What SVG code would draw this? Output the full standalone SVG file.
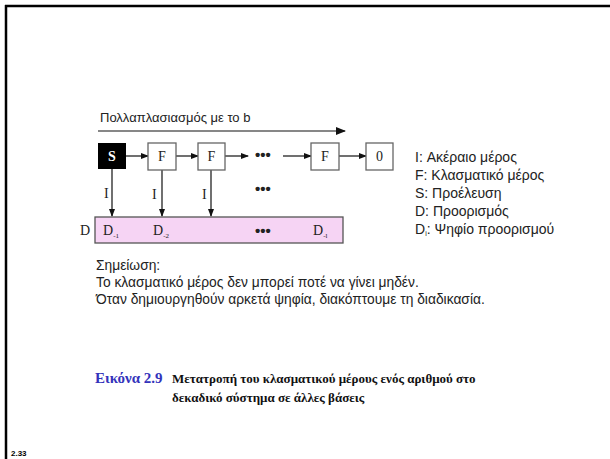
<svg xmlns="http://www.w3.org/2000/svg" width="610" height="459" viewBox="0 0 610 459">
<defs>
<marker id="ah" markerWidth="8" markerHeight="6" refX="7" refY="3" orient="auto" markerUnits="userSpaceOnUse">
<path d="M0,0 L8,3 L0,6 Z" fill="#111"/>
</marker>
<marker id="ahb" markerWidth="10" markerHeight="8" refX="9" refY="4" orient="auto" markerUnits="userSpaceOnUse">
<path d="M0,0 L10,4 L0,8 Z" fill="#111"/>
</marker>
<style>
.sans{font-family:"Liberation Sans","Open Sans",sans-serif;fill:#222}
.serif{font-family:"Liberation Serif","Times New Roman",serif;fill:#222}
.box{fill:#fff;stroke:#666;stroke-width:1.3}
.ln{stroke:#111;stroke-width:1.2;fill:none}
.dots{font-family:"Liberation Sans",sans-serif;font-size:15px;font-weight:bold;fill:#222}
</style>
</defs>
<rect width="610" height="459" fill="#fff"/>
<g id="frame">
<line x1="5" y1="6" x2="610" y2="6" stroke="#000" stroke-width="2.5"/>
<line x1="6" y1="5" x2="6" y2="459" stroke="#000" stroke-width="2.5"/>
</g>
<g id="header">
<text class="sans" x="100" y="122" font-size="13">Πολλαπλασιασμός με το b</text>
</g>
<g id="connectors">
<line class="ln" x1="98" y1="131" x2="345" y2="131" stroke-width="2.2" marker-end="url(#ahb)"/>
<line class="ln" x1="126" y1="156" x2="148" y2="156" marker-end="url(#ah)"/>
<line class="ln" x1="176" y1="156" x2="198" y2="156" marker-end="url(#ah)"/>
<line class="ln" x1="225" y1="156" x2="248" y2="156" marker-end="url(#ah)"/>
<line class="ln" x1="283" y1="156" x2="311" y2="156" stroke-width="1.8" marker-end="url(#ah)"/>
<line class="ln" x1="339" y1="156" x2="366" y2="156" marker-end="url(#ah)"/>
<line class="ln" x1="112" y1="169" x2="112" y2="216" marker-end="url(#ah)"/>
<line class="ln" x1="162" y1="170" x2="162" y2="216" marker-end="url(#ah)"/>
<line class="ln" x1="211" y1="170" x2="211" y2="216" marker-end="url(#ah)"/>
<text class="serif" x="104" y="198" font-size="14">I</text>
<text class="serif" x="152" y="199" font-size="14">I</text>
<text class="serif" x="202" y="199" font-size="14">I</text>
<text class="dots" x="255" y="194">•••</text>
</g>
<g id="S">
<rect x="98" y="143" width="28" height="26" fill="#000"/>
<text x="112" y="161" font-family="Liberation Serif,serif" font-size="14" font-weight="bold" fill="#fff" text-anchor="middle">S</text>
</g>
<g id="F1">
<rect class="box" x="148" y="143" width="28" height="27"/>
<text class="serif" x="162" y="161" font-size="14" text-anchor="middle">F</text>
</g>
<g id="F2">
<rect class="box" x="198" y="143" width="27" height="27"/>
<text class="serif" x="211.5" y="161" font-size="14" text-anchor="middle">F</text>
</g>
<g id="dots1">
<text class="dots" x="255" y="160">•••</text>
</g>
<g id="F3">
<rect class="box" x="311" y="143" width="28" height="27"/>
<text class="serif" x="325" y="161" font-size="14" text-anchor="middle">F</text>
</g>
<g id="Zero">
<rect class="box" x="366" y="143" width="27" height="27"/>
<text class="serif" x="379.5" y="161" font-size="14" text-anchor="middle">0</text>
</g>
<g id="D">
<text class="serif" x="80" y="235" font-size="14">D</text>
<rect x="95" y="217" width="248" height="26" fill="#f6d4f4" stroke="#555" stroke-width="1.3"/>
<text class="serif" x="103" y="235" font-size="14">D<tspan font-size="7" dy="3">-1</tspan></text>
<text class="serif" x="153" y="235" font-size="14">D<tspan font-size="7" dy="3">-2</tspan></text>
<text class="dots" x="255" y="236">•••</text>
<text class="serif" x="313" y="235" font-size="14">D<tspan font-size="7" dy="3">-l</tspan></text>
</g>
<g id="legend" font-size="14">
<text class="sans" x="415" y="162">I: Ακέραιο μέρος</text>
<text class="sans" x="415" y="180">F: Κλασματικό μέρος</text>
<text class="sans" x="415" y="198">S: Προέλευση</text>
<text class="sans" x="415" y="216">D: Προορισμός</text>
<text class="sans" x="415" y="234">D<tspan font-size="7" dy="2">i</tspan><tspan dy="-2">: Ψηφίο προορισμού</tspan></text>
</g>
<g id="note" font-size="13.8">
<text class="sans" x="96" y="270">Σημείωση:</text>
<text class="sans" x="96" y="287">Το κλασματικό μέρος δεν μπορεί ποτέ να γίνει μηδέν.</text>
<text class="sans" x="96" y="304">Όταν δημιουργηθούν αρκετά ψηφία, διακόπτουμε τη διαδικασία.</text>
</g>
<g id="caption">
<text x="95" y="383" font-family="Liberation Serif,serif" font-size="15" font-weight="bold" fill="#3333bb">Εικόνα 2.9</text>
<text x="172" y="383" font-family="Liberation Serif,serif" font-size="13" font-weight="bold" fill="#111">Μετατροπή του κλασματικού μέρους ενός αριθμού στο</text>
<text x="172" y="402" font-family="Liberation Serif,serif" font-size="13" font-weight="bold" fill="#111">δεκαδικό σύστημα σε άλλες βάσεις</text>
</g>
<g id="pagenum">
<text x="11" y="456" font-family="Liberation Sans,sans-serif" font-size="8" font-weight="bold" fill="#000">2.33</text>
</g>
</svg>
